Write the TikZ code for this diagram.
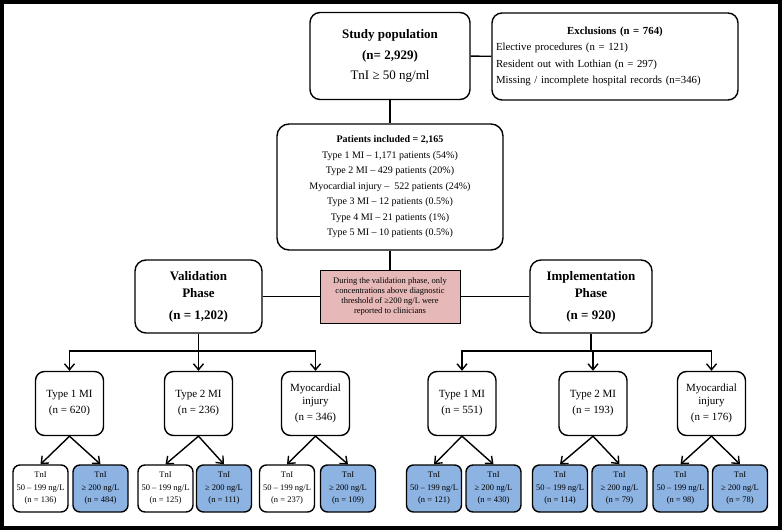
\documentclass[tikz,border=0pt]{standalone}
\usepackage{fontspec}
\setmainfont{Liberation Serif}
\usetikzlibrary{arrows.meta}
\definecolor{notered}{HTML}{E6B9B8}
\definecolor{tnblue}{HTML}{8DB3E2}
\newcommand{\grouplabel}[2]{#1\\[3pt](n = #2)}
\newcommand{\tnlabel}[2]{TnI\\#1\\(n = #2)}

\begin{document}
\begin{tikzpicture}[x = 1pt, y = -1pt, line width = 1.4pt, every node/.style = {rectangle, draw = black, align = center, inner sep = 0pt, rounded corners = 10pt},
	top/.style = {minimum height = 87pt, font = \fontsize{13}{20.5}\selectfont},
	phase/.style = {minimum height = 73pt, rounded corners = 11pt, font = \fontsize{13}{17}\selectfont\bfseries},
	group/.style = {minimum width = 68pt, minimum height = 64pt, rounded corners = 9pt, font = \fontsize{11}{13}\selectfont},
	tn/.style = {minimum width = 55pt, minimum height = 47pt, rounded corners = 7pt, font = \fontsize{8.5}{12.5}\selectfont},
	tnhi/.style = {tn, fill = tnblue},
	barb/.style = {-{Straight Barb[length = 6pt, width = 10pt]}}]

	\useasboundingbox (0,0) rectangle (782,530);
	\draw [line width = 4pt] (2,2) rectangle (780,528);

	\node (SP)   at (390, 56)    [top, minimum width = 160pt] {\textbf{Study population}\\\textbf{(n= 2,929)}\\TnI ≥ 50 ng/ml};
	\node (EX)   at (615, 56.5)  [top, minimum width = 246pt, text width = 238pt, align = left, font = \fontsize{10.8}{16.4}\selectfont]
		{\makebox[\linewidth]{\textbf{Exclusions (n = 764)}}\\ Elective procedures (n = 121)\\ Resident out with Lothian (n = 297)\\ Missing / incomplete hospital records (n=346)};
	\node (PI)   at (390, 187)   [minimum width = 226pt, minimum height = 126pt, rounded corners = 12pt, font = \fontsize{10}{15.5}\selectfont]
		{\textbf{Patients included = 2,165}\\ Type 1 MI – 1,171 patients (54\%)\\ Type 2 MI – 429 patients (20\%)\\ Myocardial injury –\ \ 522 patients (24\%)\\ Type 3 MI – 12 patients (0.5\%)\\ Type 4 MI – 21 patients (1\%)\\ Type 5 MI – 10 patients (0.5\%)};
	\node (VP)   at (198.5, 296.5) [phase, minimum width = 127pt] {Validation\\Phase\\[5pt](n = 1,202)};
	\node (NOTE) at (390, 296.5) [minimum width = 140pt, minimum height = 53pt, rounded corners = 0pt, fill = notered, line width = 1pt, font = \fontsize{8.5}{10}\selectfont]
		{During the validation phase, only\\concentrations above diagnostic\\threshold of ≥200 ng/L were\\reported to clinicians};
	\node (IP)   at (591, 296.5) [phase, minimum width = 122pt] {Implementation\\Phase\\[5pt](n = 920)};

	% validation groups
	\node (V1)  at ( 69.5, 403.5) [group] {\grouplabel{Type 1 MI}{620}};
	\node (V2)  at (198.5, 403.5) [group] {\grouplabel{Type 2 MI}{236}};
	\node (VM)  at (315.5, 403.5) [group] {\grouplabel{Myocardial\\injury}{346}};
	% implementation groups
	\node (I1)  at (462,   403.5) [group] {\grouplabel{Type 1 MI}{551}};
	\node (I2)  at (593,   403.5) [group] {\grouplabel{Type 2 MI}{193}};
	\node (IM)  at (711.5, 403.5) [group] {\grouplabel{Myocardial\\injury}{176}};

	\node (V1a) at ( 40.5, 488.5) [tn]   {\tnlabel{50 – 199 ng/L}{136}};
	\node (V1b) at (100.5, 488.5) [tnhi] {\tnlabel{≥ 200 ng/L}{484}};
	\node (V2a) at (165.5, 488.5) [tn]   {\tnlabel{50 – 199 ng/L}{125}};
	\node (V2b) at (224,   488.5) [tnhi] {\tnlabel{≥ 200 ng/L}{111}};
	\node (VMa) at (287,   488.5) [tn]   {\tnlabel{50 – 199 ng/L}{237}};
	\node (VMb) at (348,   488.5) [tnhi] {\tnlabel{≥ 200 ng/L}{109}};
	\node (I1a) at (434,   488.5) [tnhi] {\tnlabel{50 – 199 ng/L}{121}};
	\node (I1b) at (493.5, 488.5) [tnhi] {\tnlabel{≥ 200 ng/L}{430}};
	\node (I2a) at (560,   488.5) [tnhi] {\tnlabel{50 – 199 ng/L}{114}};
	\node (I2b) at (619.5, 488.5) [tnhi] {\tnlabel{≥ 200 ng/L}{79}};
	\node (IMa) at (680.5, 488.5) [tnhi] {\tnlabel{50 – 199 ng/L}{98}};
	\node (IMb) at (740,   488.5) [tnhi] {\tnlabel{≥ 200 ng/L}{78}};

	\coordinate (VB) at (198.5, 351);
	\coordinate (IB) at (591, 351);

	\foreach \from/\to in {SP/EX, SP/PI, PI/NOTE, VP/NOTE, NOTE/IP}
		\path (\from) edge (\to);
	\path (VP) edge (VB);
	\path (IP) edge (IB);
	\foreach \from/\to in {VB/V1, VB/V2, VB/VM, IB/I1, IB/I2, IB/IM}
		\draw [barb] (\from) -| (\to);
	\foreach \from/\to in {V1/V1a, V1/V1b, V2/V2a, V2/V2b, VM/VMa, VM/VMb, I1/I1a, I1/I1b, I2/I2a, I2/I2b, IM/IMa, IM/IMb}
		\path (\from.south) edge [barb] (\to.north);

\end{tikzpicture}
\end{document}
